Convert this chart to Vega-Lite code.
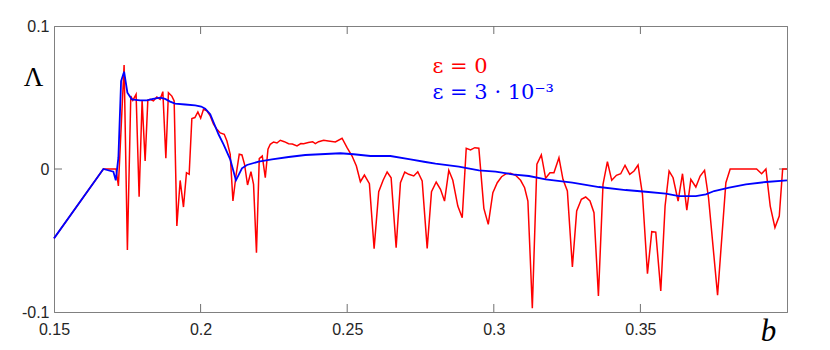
{
  "$schema": "https://vega.github.io/schema/vega-lite/v6.json",
  "width": 733,
  "height": 286,
  "autosize": {"type": "none"},
  "padding": {"left": 54, "top": 26, "right": 43, "bottom": 38},
  "background": "white",
  "config": {
    "view": {"stroke": "#808080", "strokeWidth": 1},
    "axis": {
      "grid": false,
      "domainColor": "#808080",
      "ticks": true,
      "tickSize": -7,
      "tickOpacity": 0,
      "labelFont": "Liberation Sans",
      "labelFontSize": 16,
      "labelColor": "#262626",
      "labelFlush": false,
      "zindex": 1
    }
  },
  "datasets": {
    "red": [
      {"b": 0.15, "L": -0.0485}, {"b": 0.16684, "L": 0}, {"b": 0.17117, "L": 0}, {"b": 0.17196, "L": -0.0119},
      {"b": 0.17391, "L": 0.0727}, {"b": 0.17503, "L": -0.0566}, {"b": 0.17619, "L": 0.051}, {"b": 0.17688, "L": 0.048},
      {"b": 0.178, "L": 0.0522}, {"b": 0.17903, "L": -0.0194}, {"b": 0.18005, "L": 0.048}, {"b": 0.18108, "L": 0.0056},
      {"b": 0.182, "L": 0.048}, {"b": 0.18278, "L": 0.0487}, {"b": 0.18391, "L": 0.0476}, {"b": 0.18507, "L": 0.0503},
      {"b": 0.1862, "L": 0.0487}, {"b": 0.18712, "L": 0.0541}, {"b": 0.18815, "L": 0.0075}, {"b": 0.18903, "L": 0.0534},
      {"b": 0.19019, "L": 0.051}, {"b": 0.19098, "L": 0.0476}, {"b": 0.1919, "L": -0.0399}, {"b": 0.19303, "L": -0.008},
      {"b": 0.19416, "L": -0.0266}, {"b": 0.19518, "L": -0.0026}, {"b": 0.1961, "L": -0.0037}, {"b": 0.19702, "L": 0.0353},
      {"b": 0.19805, "L": 0.036}, {"b": 0.19907, "L": 0.0399}, {"b": 0.20003, "L": 0.0355}, {"b": 0.20099, "L": 0.0417},
      {"b": 0.20215, "L": 0.0406}, {"b": 0.20328, "L": 0.0371}, {"b": 0.2044, "L": 0.0313}, {"b": 0.20549, "L": 0.028},
      {"b": 0.20669, "L": 0.0252}, {"b": 0.20806, "L": 0.0243}, {"b": 0.20898, "L": 0.0196}, {"b": 0.2101, "L": 0.0103},
      {"b": 0.21103, "L": -0.0224}, {"b": 0.21205, "L": -0.0049}, {"b": 0.21318, "L": 0.0103}, {"b": 0.2141, "L": 0.0098},
      {"b": 0.21499, "L": 0.0033}, {"b": 0.21601, "L": -0.0112}, {"b": 0.21717, "L": -0.0019}, {"b": 0.21806, "L": -0.0108},
      {"b": 0.21905, "L": -0.0585}, {"b": 0.22001, "L": 0.0073}, {"b": 0.22103, "L": 0.0091}, {"b": 0.22206, "L": -0.0061},
      {"b": 0.22298, "L": 0.0138}, {"b": 0.22376, "L": 0.0173}, {"b": 0.22489, "L": 0.0189}, {"b": 0.22605, "L": 0.0182},
      {"b": 0.22718, "L": 0.0201}, {"b": 0.22855, "L": 0.0191}, {"b": 0.23001, "L": 0.0177}, {"b": 0.23128, "L": 0.0175},
      {"b": 0.23288, "L": 0.0161}, {"b": 0.23418, "L": 0.0178}, {"b": 0.23514, "L": 0.0177}, {"b": 0.23674, "L": 0.0185},
      {"b": 0.23821, "L": 0.0191}, {"b": 0.23913, "L": 0.0177}, {"b": 0.24026, "L": 0.0191}, {"b": 0.24197, "L": 0.0201},
      {"b": 0.24357, "L": 0.0196}, {"b": 0.24596, "L": 0.0189}, {"b": 0.24825, "L": 0.0215}, {"b": 0.24995, "L": 0.0149},
      {"b": 0.25166, "L": 0.0091}, {"b": 0.25313, "L": 0.0021}, {"b": 0.2545, "L": -0.0089}, {"b": 0.25587, "L": -0.0042},
      {"b": 0.25757, "L": -0.0103}, {"b": 0.25918, "L": -0.0557}, {"b": 0.26075, "L": -0.0159}, {"b": 0.26225, "L": -0.0079},
      {"b": 0.26362, "L": -0.0021}, {"b": 0.26498, "L": -0.0061}, {"b": 0.26669, "L": -0.055}, {"b": 0.26816, "L": -0.0096},
      {"b": 0.26963, "L": -0.0021}, {"b": 0.27099, "L": -0.0037}, {"b": 0.2727, "L": -0.0049}, {"b": 0.27407, "L": -0.0019},
      {"b": 0.27557, "L": -0.0084}, {"b": 0.27728, "L": -0.0555}, {"b": 0.27875, "L": -0.0159}, {"b": 0.28035, "L": -0.0091},
      {"b": 0.28182, "L": -0.0142}, {"b": 0.28319, "L": -0.0224}, {"b": 0.28465, "L": -0.0009}, {"b": 0.28602, "L": -0.0079},
      {"b": 0.28773, "L": -0.0259}, {"b": 0.28923, "L": -0.0341}, {"b": 0.2906, "L": 0.0145}, {"b": 0.29206, "L": 0.0133},
      {"b": 0.29353, "L": 0.0149}, {"b": 0.2949, "L": 0.0145}, {"b": 0.29661, "L": -0.0275}, {"b": 0.29811, "L": -0.0387},
      {"b": 0.29968, "L": -0.0166}, {"b": 0.30118, "L": -0.0096}, {"b": 0.30265, "L": -0.0054}, {"b": 0.30426, "L": -0.0033},
      {"b": 0.30572, "L": -0.003}, {"b": 0.30743, "L": -0.0044}, {"b": 0.30914, "L": -0.0079}, {"b": 0.31051, "L": -0.0131},
      {"b": 0.31163, "L": -0.0224}, {"b": 0.31314, "L": -0.0974}, {"b": 0.3147, "L": 0.0033}, {"b": 0.31621, "L": 0.0098},
      {"b": 0.31768, "L": -0.0065}, {"b": 0.31915, "L": -0.0026}, {"b": 0.32051, "L": -0.0026}, {"b": 0.32222, "L": 0.0079},
      {"b": 0.32359, "L": -0.0072}, {"b": 0.32509, "L": -0.0154}, {"b": 0.3268, "L": -0.0685}, {"b": 0.32827, "L": -0.0294},
      {"b": 0.32987, "L": -0.0212}, {"b": 0.33134, "L": -0.0196}, {"b": 0.33281, "L": -0.0224}, {"b": 0.33417, "L": -0.0306},
      {"b": 0.33568, "L": -0.0888}, {"b": 0.33725, "L": -0.0107}, {"b": 0.33875, "L": 0.0051}, {"b": 0.34022, "L": -0.0079},
      {"b": 0.34182, "L": -0.0044}, {"b": 0.34329, "L": -0.0033}, {"b": 0.34476, "L": 0.0026}, {"b": 0.34636, "L": -0.0037},
      {"b": 0.34783, "L": -0.0014}, {"b": 0.3492, "L": 0.0028}, {"b": 0.3507, "L": -0.0177}, {"b": 0.35241, "L": -0.0732},
      {"b": 0.35388, "L": -0.0438}, {"b": 0.35524, "L": -0.0441}, {"b": 0.35695, "L": -0.0853}, {"b": 0.35842, "L": -0.0259},
      {"b": 0.35979, "L": -0.0014}, {"b": 0.36115, "L": -0.0061}, {"b": 0.36286, "L": -0.0224}, {"b": 0.36436, "L": -0.0033},
      {"b": 0.36583, "L": -0.0287}, {"b": 0.3672, "L": -0.0072}, {"b": 0.36891, "L": -0.0126}, {"b": 0.37038, "L": -0.0049},
      {"b": 0.37188, "L": -0.0009}, {"b": 0.37324, "L": -0.0201}, {"b": 0.37632, "L": -0.0883}, {"b": 0.37915, "L": -0.0096},
      {"b": 0.38062, "L": 0}, {"b": 0.38963, "L": 0}, {"b": 0.39134, "L": -0.0033}, {"b": 0.39281, "L": 0},
      {"b": 0.39428, "L": -0.0259}, {"b": 0.39589, "L": -0.041}, {"b": 0.39736, "L": -0.0329}, {"b": 0.39852, "L": 0},
      {"b": 0.4, "L": 0}
    ],
    "blue": [
      {"b": 0.15, "L": -0.0485}, {"b": 0.16684, "L": 0}, {"b": 0.17025, "L": -0.0019}, {"b": 0.17107, "L": -0.0079},
      {"b": 0.17196, "L": 0.0079}, {"b": 0.17288, "L": 0.0615}, {"b": 0.17391, "L": 0.068}, {"b": 0.17503, "L": 0.0534},
      {"b": 0.17654, "L": 0.0487}, {"b": 0.17937, "L": 0.048}, {"b": 0.18166, "L": 0.048}, {"b": 0.18381, "L": 0.049},
      {"b": 0.1862, "L": 0.0499}, {"b": 0.18791, "L": 0.049}, {"b": 0.18961, "L": 0.0471}, {"b": 0.19132, "L": 0.0457},
      {"b": 0.19474, "L": 0.0451}, {"b": 0.19815, "L": 0.0445}, {"b": 0.2002, "L": 0.0437}, {"b": 0.20157, "L": 0.0422},
      {"b": 0.20328, "L": 0.0383}, {"b": 0.20611, "L": 0.0243}, {"b": 0.20782, "L": 0.0173}, {"b": 0.2101, "L": 0.0068},
      {"b": 0.21205, "L": -0.0079}, {"b": 0.2141, "L": 0.0005}, {"b": 0.21581, "L": 0.0028}, {"b": 0.21977, "L": 0.0051},
      {"b": 0.22434, "L": 0.0068}, {"b": 0.23001, "L": 0.0084}, {"b": 0.23572, "L": 0.0098}, {"b": 0.24084, "L": 0.0103},
      {"b": 0.24767, "L": 0.011}, {"b": 0.25221, "L": 0.0103}, {"b": 0.25791, "L": 0.0091}, {"b": 0.26474, "L": 0.0091},
      {"b": 0.27157, "L": 0.0068}, {"b": 0.2767, "L": 0.0049}, {"b": 0.28011, "L": 0.0037}, {"b": 0.28807, "L": 0.0016},
      {"b": 0.2949, "L": -0.0009}, {"b": 0.3006, "L": -0.0019}, {"b": 0.30631, "L": -0.0037}, {"b": 0.31197, "L": -0.0049},
      {"b": 0.31768, "L": -0.0072}, {"b": 0.3268, "L": -0.0096}, {"b": 0.33588, "L": -0.0126}, {"b": 0.34499, "L": -0.0147},
      {"b": 0.35183, "L": -0.0159}, {"b": 0.35866, "L": -0.0172}, {"b": 0.3632, "L": -0.0189}, {"b": 0.36891, "L": -0.0189},
      {"b": 0.37233, "L": -0.0177}, {"b": 0.37516, "L": -0.0154}, {"b": 0.38028, "L": -0.0131}, {"b": 0.38598, "L": -0.0107},
      {"b": 0.39281, "L": -0.0091}, {"b": 0.4, "L": -0.0079}
    ],
    "xticks": [{"b": 0.2}, {"b": 0.25}, {"b": 0.3}, {"b": 0.35}],
    "yticks": [{"L": 0}],
    "labels": [
      {"b": 0.2791, "L": 0.0671, "text": "ε = 0", "series": "red"},
      {"b": 0.2791, "L": 0.049, "text": "ε = 3 · 10⁻³", "series": "blue"}
    ]
  },
  "resolve": {"axis": {"x": "independent", "y": "independent"}},
  "layer": [
    {
      "data": {"name": "xticks"},
      "mark": {"type": "rule", "color": "#707070", "strokeWidth": 1},
      "encoding": {
        "x": {
          "field": "b", "type": "quantitative",
          "scale": {"domain": [0.15, 0.4], "nice": false, "zero": false},
          "axis": {
            "orient": "bottom", "values": [0.15, 0.2, 0.25, 0.3, 0.35],
            "labelExpr": "'' + datum.value", "labelPadding": 16,
            "title": "b", "titleFont": "Liberation Serif", "titleFontStyle": "italic",
            "titleFontWeight": "normal", "titleFontSize": 31, "titleColor": "black",
            "titleX": 714, "titleY": 28, "titleAlign": "center", "titleBaseline": "alphabetic"
          }
        },
        "y": {"datum": -0.1, "type": "quantitative", "scale": {"domain": [-0.1, 0.1], "nice": false, "zero": false}, "axis": null},
        "y2": {"datum": -0.0944}
      }
    },
    {
      "data": {"name": "xticks"},
      "mark": {"type": "rule", "color": "#707070", "strokeWidth": 1},
      "encoding": {
        "x": {"field": "b", "type": "quantitative", "axis": {"orient": "top", "values": [0.15, 0.2, 0.25, 0.3, 0.35], "labels": false, "title": null}},
        "y": {"datum": 0.1, "type": "quantitative", "axis": null},
        "y2": {"datum": 0.0944}
      }
    },
    {
      "data": {"name": "yticks"},
      "mark": {"type": "rule", "color": "#707070", "strokeWidth": 1},
      "encoding": {
        "x": {"datum": 0.15, "type": "quantitative", "axis": null},
        "x2": {"datum": 0.15273},
        "y": {
          "field": "L", "type": "quantitative",
          "axis": {
            "orient": "left", "values": [-0.1, 0, 0.1],
            "labelExpr": "'' + datum.value", "labelPadding": 12,
            "title": "Λ", "titleFont": "Liberation Serif", "titleFontWeight": "normal",
            "titleFontSize": 27, "titleColor": "black", "titleAngle": 0,
            "titleX": -21, "titleY": 51, "titleAlign": "center", "titleBaseline": "middle"
          }
        }
      }
    },
    {
      "data": {"name": "yticks"},
      "mark": {"type": "rule", "color": "#707070", "strokeWidth": 1},
      "encoding": {
        "x": {"datum": 0.4, "type": "quantitative", "axis": null},
        "x2": {"datum": 0.39727},
        "y": {"field": "L", "type": "quantitative", "axis": {"orient": "right", "values": [-0.1, 0, 0.1], "labels": false, "title": null}}
      }
    },
    {
      "data": {"name": "red"},
      "mark": {"type": "line", "color": "#ff0000", "strokeWidth": 1.5},
      "encoding": {
        "x": {"field": "b", "type": "quantitative", "axis": null},
        "y": {"field": "L", "type": "quantitative", "axis": null}
      }
    },
    {
      "data": {"name": "blue"},
      "mark": {"type": "line", "color": "#0000ff", "strokeWidth": 1.8},
      "encoding": {
        "x": {"field": "b", "type": "quantitative", "axis": null},
        "y": {"field": "L", "type": "quantitative", "axis": null}
      }
    },
    {
      "data": {"name": "labels"},
      "mark": {"type": "text", "font": "DejaVu Serif", "fontSize": 21, "align": "left", "baseline": "alphabetic"},
      "encoding": {
        "x": {"field": "b", "type": "quantitative", "axis": null},
        "y": {"field": "L", "type": "quantitative", "axis": null},
        "text": {"field": "text"},
        "color": {"field": "series", "type": "nominal", "scale": {"domain": ["red", "blue"], "range": ["#ff0000", "#0000ff"]}, "legend": null}
      }
    }
  ]
}
